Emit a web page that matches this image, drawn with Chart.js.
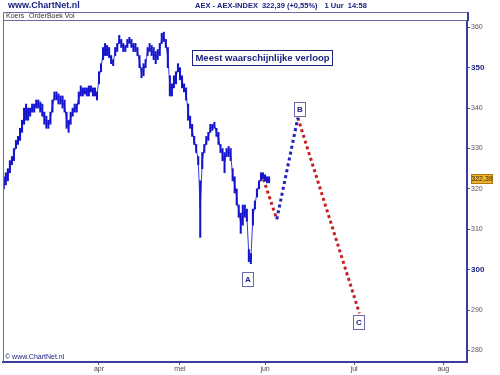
<!DOCTYPE html>
<html>
<head>
<meta charset="utf-8">
<script src="https://cdn.jsdelivr.net/npm/chart.js@4"></script>
<style>
  html, body { margin: 0; padding: 0; background: #fff; }
  #wrap { width: 500px; height: 375px; }
</style>
</head>
<body>
<div id="wrap"><canvas id="myChart" width="500" height="375"></canvas></div>
<script>
// Koers AEX, halve handelsdagen (laag / hoog), vanaf begin maart
const startDag = -23.5;
const stap = 0.5;
const koersLaag = [
  320, 321, 322, 324, 326, 327, 330, 331, 332, 334,
  336, 337, 337, 338, 339, 339, 340, 340, 339, 338,
  336, 335, 335, 336, 339, 342, 342, 341, 341, 340,
  339, 335, 334, 336, 338, 339, 339, 341, 343, 343,
  343.5, 343, 343, 344, 343, 343, 342, 346, 349, 352,
  353, 353, 352.5, 351, 350.5, 353, 354, 356, 355, 354,
  354, 355, 356, 355, 354, 354, 353, 350, 347.5, 348,
  350, 353, 354, 353, 352, 351, 352, 353, 356, 356.5,
  355, 350, 343, 343, 345, 346, 349, 347, 345, 344,
  342, 337, 335, 333, 331, 329, 326, 308, 325, 329,
  331, 332, 334, 334.5, 335, 333, 331, 329, 327, 324,
  328, 328, 327, 322, 319, 316, 313, 309, 311, 313,
  312, 302, 301.5, 311, 315, 318, 320, 322, 322.5, 322,
  321.5, 321.5
];
const koersHoog = [
  323, 324, 325, 327, 328, 330, 332, 333, 335, 337,
  340, 341, 340, 340, 341, 341, 342, 342, 341.5, 341,
  339, 338, 337, 339, 342, 344, 344, 343.5, 343, 343,
  342, 339, 337, 339, 340, 341, 341, 344, 345.5, 345,
  345, 345, 345.5, 345.5, 345, 345, 344, 349, 351, 355,
  356, 355.5, 355, 353, 352, 355, 356, 358, 357, 356,
  355.5, 357, 357.5, 357, 356, 356, 355, 353, 350, 351,
  352, 355, 356, 355.5, 355, 354, 354.5, 356, 358.5, 358.8,
  357, 355, 348, 346, 348, 349, 351, 350, 348, 346,
  345, 341, 338, 336, 333, 331, 328, 322, 329, 331,
  333, 334, 336, 336, 336.5, 335, 334, 331, 330, 329,
  330, 330.5, 330, 325, 323, 320, 316, 314, 316, 316,
  315, 305, 304, 315, 317, 320, 322, 324, 324, 323.5,
  323, 323
];

// Verwacht verloop (handelsdag, koers)
const verloopX = [40.6, 43.9, 49.1, 64.3];
const verloopY = [322.39, 312.5, 337.6, 289.2];

// Golflabels
const golfLabels = ['A', 'B', 'C'];
const golfX = [36.7, 49.7, 64.3];
const golfY = [297.7, 339.8, 287.0];

// Assen
const yTicks = [280, 290, 300, 310, 320, 330, 340, 350, 360];
const maandNamen = ['apr', 'mei', 'jun', 'jul', 'aug'];
const maandPos = [0, 20, 41, 63, 85];
const laatsteKoers = 322.39;

// Kopregel
const titelDelen = ['AEX - AEX-INDEX', '322,39 (+0,55%)', '1 Uur', '14:58'];
const titelGaten = [4, 7, 4];

const FONT = '"Liberation Sans", Arial, sans-serif';
const NAVY = '#1c2280';
const ASKLEUR = '#3c3c9c';
const BLAUW = '#1414cc';
const ROOD = '#c82020';

const barData = koersLaag.map((lo, i) => ({ x: startDag + i * stap, y: [lo, koersHoog[i]] }));
const midData = koersLaag.map((lo, i) => ({ x: startDag + i * stap, y: (lo + koersHoog[i]) / 2 }));

function lijnStuk(a, b, kleur) {
    return {
        type: 'line',
        data: [{ x: verloopX[a], y: verloopY[a] }, { x: verloopX[b], y: verloopY[b] }],
        borderColor: kleur,
        borderWidth: 3,
        borderDash: [3, 3],
        borderCapStyle: 'butt',
        pointRadius: 0,
        fill: false
    };
}

const kader = {
    id: 'kader',
    beforeDraw(chart) {
        const ctx = chart.ctx;
        ctx.save();
        ctx.fillStyle = '#fff';
        ctx.fillRect(0, 0, chart.width, chart.height);
        ctx.restore();
    },
    afterDraw(chart) {
        const ctx = chart.ctx;
        const area = chart.chartArea;
        const xs = chart.scales.x;
        const ys = chart.scales.y;
        ctx.save();

        // kopregel
        ctx.fillStyle = NAVY;
        ctx.textBaseline = 'middle';
        ctx.font = 'bold 9px ' + FONT;
        ctx.fillText('www.ChartNet.nl', 8, 6);
        ctx.font = 'bold 7.5px ' + FONT;
        let tx = 195;
        titelDelen.forEach((t, i) => {
            ctx.fillText(t, tx, 6);
            tx += ctx.measureText(t).width + (titelGaten[i] || 0);
        });

        // kader
        ctx.strokeStyle = '#6a6aa8';
        ctx.lineWidth = 1;
        ctx.beginPath();
        ctx.moveTo(area.left + 0.5, 12.5);
        ctx.lineTo(area.right, 12.5);
        ctx.moveTo(area.left + 0.5, 20.5);
        ctx.lineTo(area.right, 20.5);
        ctx.moveTo(area.left + 0.5, 12.5);
        ctx.lineTo(area.left + 0.5, area.bottom);
        ctx.stroke();
        ctx.strokeStyle = ASKLEUR;
        ctx.lineWidth = 2;
        ctx.beginPath();
        ctx.moveTo(area.right + 1, 12);
        ctx.lineTo(area.right + 1, area.top);
        ctx.stroke();

        ctx.fillStyle = '#333';
        ctx.font = '7px ' + FONT;
        ctx.fillText('Koers', 6, 16.5);
        ctx.fillText('OrderBoek Vol', 29, 16.5);

        // copyright
        ctx.fillStyle = NAVY;
        ctx.fillText('\u00a9 www.ChartNet.nl', 5, area.bottom - 5);

        // tekstvak
        ctx.fillStyle = '#fff';
        ctx.fillRect(192, 50, 141, 16);
        ctx.strokeStyle = NAVY;
        ctx.lineWidth = 1;
        ctx.strokeRect(192.5, 50.5, 140, 15);
        ctx.fillStyle = NAVY;
        ctx.font = 'bold 9.5px ' + FONT;
        ctx.textAlign = 'center';
        ctx.fillText('Meest waarschijnlijke verloop', 262.5, 58.5);

        // golflabels
        ctx.font = 'bold 8px ' + FONT;
        golfLabels.forEach((t, i) => {
            const px = Math.round(xs.getPixelForValue(golfX[i]));
            const py = Math.round(ys.getPixelForValue(golfY[i]));
            ctx.fillStyle = '#fff';
            ctx.fillRect(px - 6, py - 7, 12, 15);
            ctx.strokeStyle = '#6a6aa8';
            ctx.strokeRect(px - 5.5, py - 6.5, 11, 14);
            ctx.fillStyle = NAVY;
            ctx.fillText(t, px, py + 1);
        });

        // koerslabel
        const ky = Math.round(ys.getPixelForValue(laatsteKoers));
        ctx.fillStyle = '#f2b42c';
        ctx.fillRect(area.right + 4, ky - 5, 22, 10);
        ctx.strokeStyle = '#b07810';
        ctx.strokeRect(area.right + 4.5, ky - 4.5, 21, 9);
        ctx.fillStyle = '#222';
        ctx.font = '7px ' + FONT;
        ctx.fillText('322,39', area.right + 15, ky + 0.5);
        ctx.restore();
    }
};

const canvas = document.querySelector('#myChart');
const myChart = new Chart(canvas, {
    type: 'bar',
    data: {
        datasets: [
            {
                label: 'Koers',
                data: barData,
                backgroundColor: BLAUW,
                borderWidth: 0,
                barThickness: 1.4,
                grouped: false
            },
            {
                type: 'line',
                data: midData,
                borderColor: '#3a3ae0',
                borderWidth: 1,
                pointRadius: 0,
                fill: false
            },
            lijnStuk(0, 1, ROOD),
            lijnStuk(1, 2, '#2222c0'),
            lijnStuk(2, 3, ROOD)
        ]
    },
    options: {
        responsive: false,
        animation: false,
        events: [],
        layout: { padding: { top: 21, left: 3, right: 0, bottom: 0 } },
        plugins: { legend: { display: false }, tooltip: { enabled: false } },
        scales: {
            x: {
                type: 'linear',
                offset: false,
                min: -23.7,
                max: 90.86,
                grid: { offset: false, drawOnChartArea: false, drawTicks: true, tickLength: 3, color: '#555' },
                border: { display: true, color: ASKLEUR, width: 2 },
                afterBuildTicks: (scale) => { scale.ticks = maandPos.map(v => ({ value: v })); },
                afterFit: (scale) => { scale.height = 13; },
                ticks: {
                    autoSkip: false,
                    maxRotation: 0,
                    padding: 0,
                    color: '#444',
                    font: { family: FONT, size: 7 },
                    callback: (v) => maandNamen[maandPos.indexOf(v)]
                }
            },
            y: {
                position: 'right',
                min: 277.15,
                max: 361.56,
                grid: { drawOnChartArea: false, drawTicks: true, tickLength: 3, color: '#555' },
                border: { display: true, color: ASKLEUR, width: 2 },
                afterBuildTicks: (scale) => { scale.ticks = yTicks.map(v => ({ value: v })); },
                afterFit: (scale) => { scale.width = 33; },
                ticks: {
                    padding: 1,
                    color: (c) => (c.tick && c.tick.value % 50 === 0) ? NAVY : '#555',
                    font: (c) => (c.tick && c.tick.value % 50 === 0)
                        ? { family: FONT, size: 8, weight: 'bold' }
                        : { family: FONT, size: 7 }
                }
            }
        }
    },
    plugins: [kader]
});
</script>
</body>
</html>
